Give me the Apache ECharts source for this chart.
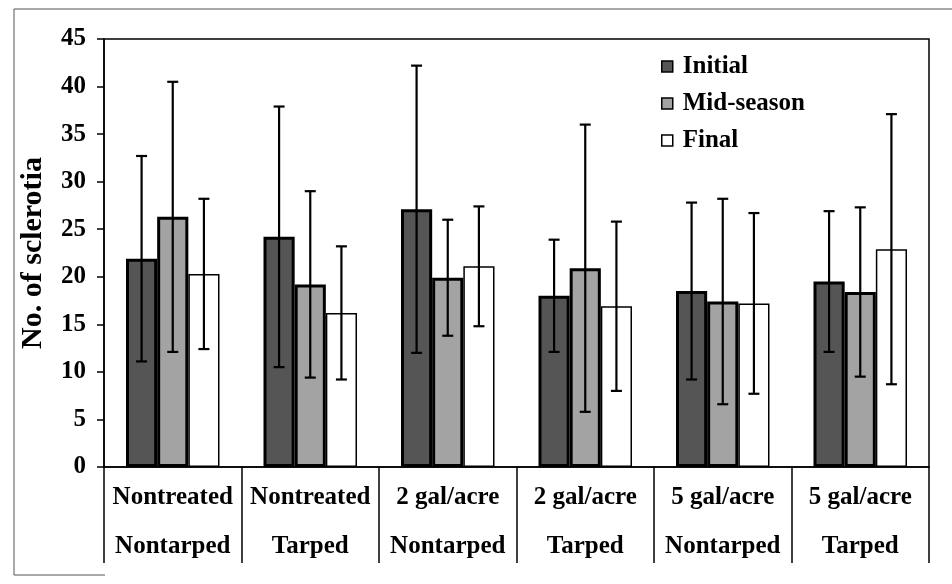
<!DOCTYPE html>
<html>
<head>
<meta charset="utf-8">
<script src="https://cdn.jsdelivr.net/npm/echarts@6/dist/echarts.min.js"></script>
<style>html,body{margin:0;padding:0;background:#fff}#c{width:952px;height:584px}</style>
</head>
<body>
<div id="c"></div>
<script>
var treatments = ["Nontreated", "Nontreated", "2 gal/acre", "2 gal/acre", "5 gal/acre", "5 gal/acre"];
var tarping = ["Nontarped", "Tarped", "Nontarped", "Tarped", "Nontarped", "Tarped"];
var seriesNames = ["Initial", "Mid-season", "Final"];
var initialVals = [21.9, 24.2, 27.1, 18.0, 18.5, 19.5];
var initialErr = [10.8, 13.7, 15.1, 5.9, 9.3, 7.4];
var midVals = [26.3, 19.2, 19.9, 20.9, 17.4, 18.4];
var midErr = [14.2, 9.8, 6.1, 15.1, 10.8, 8.9];
var finalVals = [20.3, 16.2, 21.1, 16.9, 17.2, 22.9];
var finalErr = [7.9, 7.0, 6.3, 8.9, 9.5, 14.2];
var yTicks = [0, 5, 10, 15, 20, 25, 30, 35, 40, 45];

var categories = treatments.map(function (t, i) { return t + "\n" + tarping[i]; });
var FONT = "'Liberation Serif', 'DejaVu Serif', serif";
var catGap = 0.32;

var chart = echarts.init(document.getElementById('c'));

function errSeries(vals, errs, k) {
  return {
    type: 'custom',
    name: seriesNames[k] + ' err',
    z: 10,
    silent: true,
    data: vals.map(function (v, i) { return [i, v, errs[i]]; }),
    renderItem: function (params, api) {
      var i = api.value(0), v = api.value(1), e = api.value(2);
      var band = api.size([1, 0])[0];
      var bw = band * (1 - catGap) / 3;
      var off = (k - 1) * bw;
      var hi = api.coord([i, v + e]);
      var lo = api.coord([i, v - e]);
      var x = hi[0] + off;
      var cap = 5.5;
      var st = { stroke: '#000', lineWidth: 2.2 };
      return {
        type: 'group',
        children: [
          { type: 'line', shape: { x1: x, y1: hi[1], x2: x, y2: lo[1] }, style: st },
          { type: 'line', shape: { x1: x - cap, y1: hi[1], x2: x + cap, y2: hi[1] }, style: st },
          { type: 'line', shape: { x1: x - cap, y1: lo[1], x2: x + cap, y2: lo[1] }, style: st }
        ]
      };
    }
  };
}

var colors = ['#555555', '#a3a3a3', '#ffffff'];
var borders = [3, 3, 1.5];
var valsAll = [initialVals, midVals, finalVals];
var errsAll = [initialErr, midErr, finalErr];

var series = [];
for (var k = 0; k < 3; k++) {
  series.push({
    type: 'bar',
    name: seriesNames[k],
    data: valsAll[k],
    barGap: '0%',
    barCategoryGap: (catGap * 100) + '%',
    itemStyle: { color: colors[k], borderColor: '#000', borderWidth: borders[k] }
  });
}
for (var k2 = 0; k2 < 3; k2++) series.push(errSeries(valsAll[k2], errsAll[k2], k2));

chart.setOption({
  animation: false,
  backgroundColor: '#fff',
  graphic: [
    { type: 'polyline', shape: { points: [[105, 575], [14, 575], [14, 9], [952, 9]] },
      style: { fill: 'none', stroke: '#555', lineWidth: 1 }, z: -1 }
  ],
  grid: {
    left: 104, right: 23, top: 39, bottom: 117,
    show: true, borderColor: '#000', borderWidth: 1.5, backgroundColor: 'transparent'
  },
  legend: {
    orient: 'vertical',
    left: 661, top: 54,
    padding: 0,
    icon: 'rect',
    itemWidth: 11, itemHeight: 11, itemGap: 12,
    data: seriesNames,
    itemStyle: { borderColor: '#000', borderWidth: 1.5 },
    textStyle: { fontFamily: FONT, fontWeight: 'bold', fontSize: 25, color: '#000', lineHeight: 25, padding: [0, 0, 0, 5] }
  },
  xAxis: {
    type: 'category',
    data: categories,
    axisLine: { lineStyle: { color: '#000', width: 1.5 } },
    axisTick: { show: true, length: 96, interval: 0, lineStyle: { color: '#000', width: 1.5 } },
    axisLabel: { interval: 0, margin: 6, fontFamily: FONT, fontWeight: 'bold', fontSize: 25, color: '#000', lineHeight: 49 }
  },
  yAxis: {
    type: 'value',
    min: yTicks[0], max: yTicks[yTicks.length - 1], interval: 5,
    name: 'No. of sclerotia',
    nameLocation: 'middle',
    nameGap: 56,
    nameTextStyle: { fontFamily: FONT, fontWeight: 'bold', fontSize: 30, color: '#000' },
    splitLine: { show: false },
    axisLine: { show: true, lineStyle: { color: '#000', width: 1.5 } },
    axisTick: { show: true, length: 7, lineStyle: { color: '#000', width: 1.5 } },
    axisLabel: { margin: 18, fontFamily: FONT, fontWeight: 'bold', fontSize: 25, color: '#000' }
  },
  series: series
});
</script>
</body>
</html>
